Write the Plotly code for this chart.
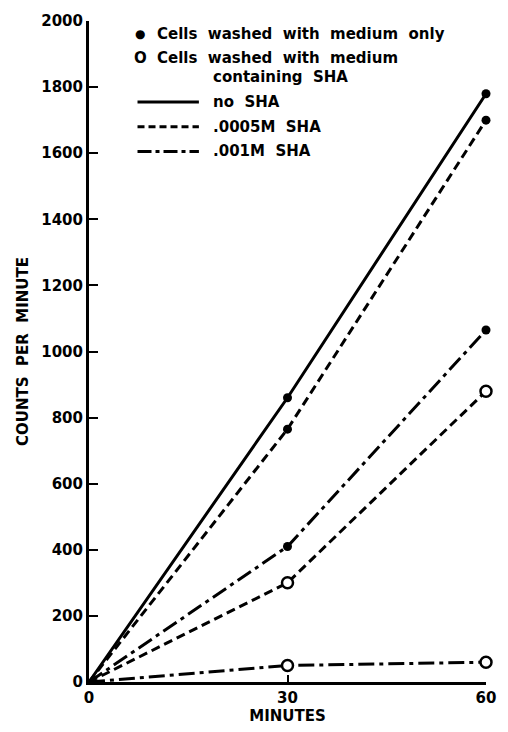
import plotly.graph_objects as go

minutes = [0, 30, 60]
no_sha_medium = [0, 860, 1780]
sha0005_medium = [0, 765, 1700]
sha001_medium = [0, 410, 1065]
sha0005_sha = [0, 300, 880]
sha001_sha = [0, 50, 60]

y_ticks = [0, 200, 400, 600, 800, 1000, 1200, 1400, 1600, 1800, 2000]
x_ticks = [0, 30, 60]

W, H = 508, 732
L, R, T, B = 89, 18, 17, 46
pw, ph = W - L - R, H - T - B

def px(x):
    return (x - L) / pw

def py(y):
    return (H - B - y) / ph

FONT = "DejaVu Sans"
BLACK = "black"
DASH = "9px,5px"
DASHDOT = "16px,5px,4px,5px"

fig = go.Figure()

series = [
    (no_sha_medium, "solid", True),
    (sha0005_medium, DASH, True),
    (sha001_medium, DASHDOT, True),
    (sha0005_sha, DASH, False),
    (sha001_sha, DASHDOT, False),
]
for vals, dash, filled in series:
    fig.add_trace(go.Scatter(
        x=minutes, y=vals, mode="lines",
        line=dict(color=BLACK, width=3, dash=dash),
        showlegend=False, cliponaxis=False, hoverinfo="skip"))
    fig.add_trace(go.Scatter(
        x=minutes[1:], y=vals[1:], mode="markers",
        marker=dict(symbol="circle",
                    size=9 if filled else 11,
                    color=BLACK if filled else "white",
                    line=dict(color=BLACK, width=0 if filled else 2.5)),
        showlegend=False, cliponaxis=False, hoverinfo="skip"))

fsize = 15
ann = []
def text(x, y, s, size=fsize, xanchor="left"):
    ann.append(dict(x=px(x), y=py(y), xref="paper", yref="paper", text=s,
                    showarrow=False, xanchor=xanchor, yanchor="middle",
                    font=dict(family=FONT, size=size, color=BLACK)))

text(141, 30, "●", size=12, xanchor="center")
text(156, 30, "<b>Cells  washed  with  medium  only</b>")
text(141, 54, "<b>O</b>", size=15, xanchor="center")
text(156, 54, "<b>Cells  washed  with  medium</b>")
text(212, 74, "<b>containing  SHA</b>")
text(212, 99, "<b>no  SHA</b>")
text(212, 124, "<b>.0005M  SHA</b>")
text(212, 149, "<b>.001M  SHA</b>")

shapes = []
for yy, dash in [(99, "solid"), (124, "7px,4px"), (149, "14px,4px,4px,4px")]:
    shapes.append(dict(type="line", xref="paper", yref="paper",
                       x0=px(138), x1=px(200), y0=py(yy), y1=py(yy),
                       line=dict(color=BLACK, width=3, dash=dash)))

fig.update_layout(
    width=W, height=H,
    margin=dict(l=L, r=R, t=T, b=B),
    paper_bgcolor="white", plot_bgcolor="white",
    annotations=ann, shapes=shapes,
    font=dict(family=FONT, color=BLACK),
    xaxis=dict(range=[0, 60], tickvals=x_ticks, ticktext=[f"<b>{v}</b>" for v in x_ticks],
               showgrid=False, zeroline=False, showline=True, linecolor=BLACK, linewidth=3,
               ticks="inside", ticklen=7, tickwidth=2, tickcolor=BLACK,
               tickfont=dict(family=FONT, size=15, color=BLACK),
               title=dict(text="<b>MINUTES</b>", font=dict(family=FONT, size=15, color=BLACK), standoff=2)),
    yaxis=dict(range=[0, 2000], tickvals=y_ticks, ticktext=[f"<b>{v}</b>" for v in y_ticks],
               showgrid=False, zeroline=False, showline=True, linecolor=BLACK, linewidth=3,
               ticks="inside", ticklen=9, tickwidth=2, tickcolor=BLACK,
               tickfont=dict(family=FONT, size=15, color=BLACK),
               title=dict(text="<b>COUNTS  PER  MINUTE</b>", font=dict(family=FONT, size=15, color=BLACK), standoff=10)),
)

fig.write_html("out.html")
